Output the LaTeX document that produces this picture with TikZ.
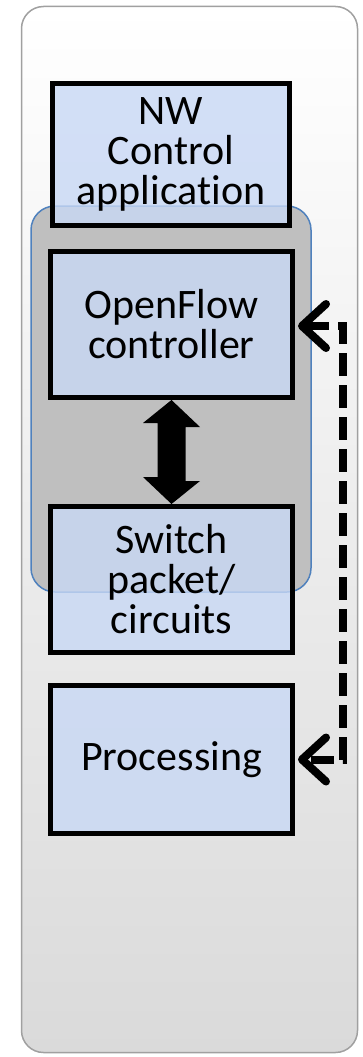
\documentclass[tikz,border=0pt]{standalone}
\usepackage{fontspec}
\setmainfont{Carlito}[Ligatures=CommonOff]
\usetikzlibrary{arrows.meta,calc}
\definecolor{boxblue}{RGB}{200,216,245}
\definecolor{grayfill}{RGB}{191,191,191}
\definecolor{grayedge}{RGB}{79,129,189}
\definecolor{outeredge}{RGB}{160,160,160}
\definecolor{outerbot}{RGB}{218,218,218}
\tikzset{
  layerbox/.style={draw=black, line width=5pt, fill=boxblue, fill opacity=0.8, text opacity=1,
    minimum width=242pt, minimum height=146pt, inner sep=0pt, align=center,
    font=\fontsize{42}{40}\selectfont},
  dconn/.style={draw=black, line width=8pt, dash pattern=on 23pt off 9pt,
    {Straight Barb[length=24pt,width=44pt,line width=8pt,round]}-{Straight Barb[length=24pt,width=44pt,line width=8pt,round]}}
}
\begin{document}
\begin{tikzpicture}[x=1pt,y=-1pt]
\useasboundingbox (0,0) rectangle (362,1057);
% outer panel
\draw[draw=outeredge, line width=1.5pt, rounded corners=22pt, top color=white, bottom color=outerbot]
  (21.5,6.5) rectangle (357.5,1052.5);
% gray group
\draw[draw=grayedge, line width=1.5pt, fill=grayfill, rounded corners=24pt]
  (31,206) rectangle (311,592);
% boxes
\node[layerbox, minimum width=237pt, minimum height=142pt] (NW) at (171,154.5) {NW\\Control\\application};
\node[layerbox] (OF) at (171.5,324.5) {OpenFlow\\controller};
\node[layerbox] (SW) at (171.5,579.5) {Switch\\packet/\\circuits};
\node[layerbox, minimum height=148pt] (PR) at (171.5,759.5) {Processing};
% double arrow
\fill[black] (OF.south) -- ++(28.5,27) -- ++(-14.5,0) -- ++(0,54) -- ++(14.5,0) -- (SW.north)
  -- ++(-28.5,-27) -- ++(14.5,0) -- ++(0,-54) -- ++(-14.5,0) -- cycle;
% dashed connector
\draw[dconn] ([xshift=3pt,yshift=-1.5pt]OF.east) -- ++(45,0) |- ([xshift=3pt]PR.east);
\end{tikzpicture}
\end{document}
